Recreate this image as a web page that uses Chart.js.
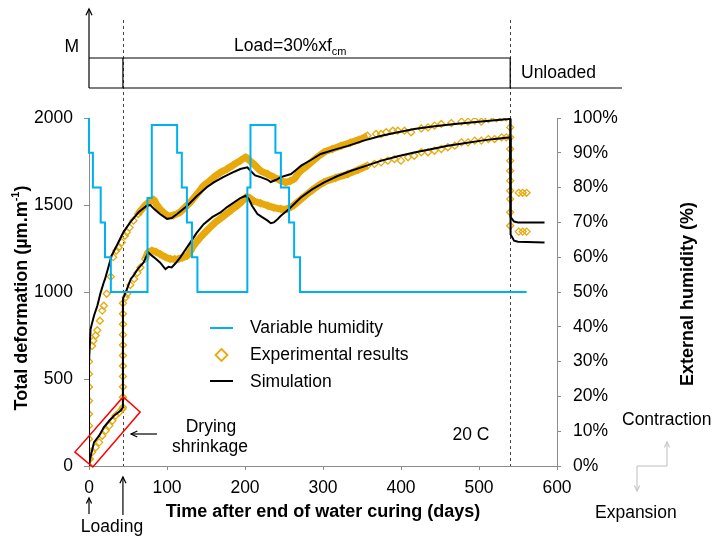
<!DOCTYPE html>
<html>
<head>
<meta charset="utf-8">
<script src="https://cdn.jsdelivr.net/npm/chart.js@4.4.1/dist/chart.umd.min.js"></script>
<style>
  html, body { margin: 0; padding: 0; background: #fff; }
  #wrap { position: relative; width: 713px; height: 536px; }
</style>
</head>
<body>
<div id="wrap"><canvas id="chart"></canvas></div>
<script>
// axis ranges / ticks
const xTicks = [0, 100, 200, 300, 400, 500, 600];
const yTicks = [0, 500, 1000, 1500, 2000];
const humTicks = [0, 10, 20, 30, 40, 50, 60, 70, 80, 90, 100];

// external humidity (%), step profile [day, %]
const humidity = [[0,100],[0,90],[5,90],[5,80],[15,80],[15,70],[20.5,70],[20.5,60],[28,60],[28,50],
  [75,50],[75,77],[80.5,77],[80.5,98],[113,98],[113,90],[119,90],[119,80],[125.5,80],[125.5,70],
  [132,70],[132,60],[139,60],[139,50],[203,50],[203,80],[207,80],[207,98],[239,98],[239,90],
  [246,90],[246,80],[256.5,80],[256.5,70],[263,70],[263,60],[270.5,60],[270.5,50],[561,50]];

// experimental results, specimen loaded at day 0
const expUpper = [[0,0],[0,40],[0,88],[0,155],[0,232],[0,299],[0,375],[0,454],[0,529],[0,600],
  [4,690],[5.5,720],[8.5,750],[10.7,780],[14,835],[17,893],[19,921],[22.7,990],[28,1088],[31,1200],
  [35,1237],[38,1256],[42,1285],[46,1323],[48.5,1343],[52,1370],[57,1410],[63,1448],[68,1477],
  [74,1506],[80,1525],[83,1530],[87,1500],[91,1477],[96,1455],[100,1440],[108,1440],[117,1460],
  [124,1490],[130,1517],[140,1570],[147,1611],[154,1635],[160,1659],[168,1685],[177,1707],[185,1730],
  [194,1755],[201,1774],[206,1755],[211,1736],[220,1697],[229,1678],[237,1659],[244,1645],[252,1630],
  [258,1638],[263,1650],[270,1690],[280,1726],[290,1765],[301,1802],[312,1822],[323,1840],[335,1858],
  [346,1875],[357,1898],[368,1908],[374.5,1908],[381,1918],[389.5,1927],[396,1927],[404.5,1927],
  [413,1918],[426,1940],[434.6,1946],[443,1956],[451.7,1966],[464.6,1971],[477.5,1979],[486,1979],
  [494.6,1985],[503,1979],[512,1994],[522.5,1998],[529,2004],[535,2004],
  [540,1946],[540,1822],[540,1697],[540,1582],[540,1458],[551,1570],[556,1570],[561,1570]];

// experimental results, drying shrinkage then loading at day 43.5
const expDrying = [[1.3,40],[4,79],[8.5,107],[13,136],[17,174],[21.5,203],[26,232],[30,260],
  [34,289],[38.6,308],[43,328]];
const expLower = [[43.5,337],[43.5,395],[43.5,455],[43.5,515],[43.5,575],[43.5,635],[43.5,695],
  [43.5,755],[43.5,815],[43.5,875],[43.5,935],[47,970],[49,990],[53,1040],[58,1075],[62,1110],
  [66,1141],[72,1190],[76,1228],[80.6,1237],[86,1230],[91,1218],[98,1200],[104,1190],[110,1188],
  [115,1190],[120,1198],[126,1209],[130,1235],[134,1266],[142,1310],[151,1352],[162,1400],[173,1438],
  [182,1470],[190,1496],[196,1520],[201,1543],[206,1540],[211,1524],[220,1510],[229,1496],[237,1485],
  [246,1477],[254,1477],[263,1500],[272,1534],[286,1585],[301,1630],[316,1655],[332,1678],[345,1702],
  [357,1726],[366,1736],[374.5,1745],[383,1755],[391.6,1764],[400,1755],[409,1774],[417,1783],
  [426,1803],[434.6,1803],[443,1812],[451.7,1822],[460,1832],[469,1841],[477.5,1860],[486,1860],
  [494.6,1870],[503,1870],[512,1879],[520,1879],[529,1889],[535,1889],
  [540,1889],[540,1755],[540,1640],[540,1534],[540,1381],[551,1347],[556,1347],[561,1347]];

// simulation
const simUpper = [[0,0],[0,600],[2,787],[6.4,864],[10.7,921],[15,998],[19,1056],[20.6,1075],[29,1209],
  [35.5,1266],[44,1343],[52.7,1400],[63.5,1458],[74,1496],[78.5,1500],[84,1475],[91,1448],[100,1420],
  [106,1425],[113,1448],[126,1496],[138,1550],[151,1602],[160,1630],[172,1660],[183,1685],[194,1707],
  [203,1717],[207,1697],[213,1670],[220,1660],[229,1645],[233,1632],[240,1645],[246,1660],[259,1678],
  [265,1700],[272,1726],[285,1760],[297,1793],[315,1818],[332,1840],[352,1870],[375,1898],[396,1918],
  [417,1937],[443,1952],[469,1966],[503,1980],[538,1994],[540,1996],[540,1500],[541,1430],[545,1405],
  [550,1400],[584,1400]];
const simLower = [[0,0],[1.3,40],[6.4,136],[13,174],[19,222],[26,260],[32,289],[40.6,318],[43.5,337],
  [43.5,960],[48,1010],[53.6,1075],[57,1094],[63,1135],[70,1170],[76,1228],[80.6,1209],[86,1190],
  [91,1170],[98,1132],[102,1145],[106,1141],[111,1165],[117,1199],[130,1285],[138,1340],[147,1390],
  [158,1430],[168.6,1457],[177,1488],[186,1515],[194,1540],[201,1553],[205,1534],[209,1496],[216,1448],
  [222,1430],[229,1410],[233,1395],[237,1400],[242,1420],[246,1438],[256.5,1477],[264,1510],
  [271.6,1543],[286,1590],[301.5,1630],[318,1665],[336,1697],[355,1725],[375,1755],[396,1780],
  [417,1802],[438,1820],[460,1840],[481,1855],[503,1870],[520,1880],[538,1888],[540,1890],[540,1400],
  [541,1330],[545,1295],[550,1289],[584,1285]];

const FONT = '"Liberation Sans", Arial, sans-serif';
const ORANGE = '#E8A90C';
const BLUE = '#00B0F0';
const AXIS = '#8c8c8c';

const pts = (a) => a.map(([x, y]) => ({ x, y }));
// dense part of the measurements shows as a solid band
const expUpperBand = expUpper.filter((p) => p[0] >= 60 && p[0] <= 360);
const expLowerBand = expLower.filter((p) => p[0] >= 70 && p[0] <= 360);

const loadDay = 43.5;
const unloadDay = 540;
// red frame round the drying shrinkage, in data units [day, value]
const redFrame = [[-18, 80], [5, -6], [65.6, 310], [43.8, 397]];

function arrow(ctx, x1, y1, x2, y2, head) {
  ctx.beginPath();
  ctx.moveTo(x1, y1);
  ctx.lineTo(x2, y2);
  ctx.stroke();
  const a = Math.atan2(y2 - y1, x2 - x1);
  ctx.beginPath();
  ctx.moveTo(x2 - head * Math.cos(a - 0.45), y2 - head * Math.sin(a - 0.45));
  ctx.lineTo(x2, y2);
  ctx.lineTo(x2 - head * Math.cos(a + 0.45), y2 - head * Math.sin(a + 0.45));
  ctx.stroke();
}

const extras = {
  id: "extras",
  beforeDatasetsDraw(chart) {
    const ctx = chart.ctx;
    const x = chart.scales.x;
    ctx.save();
    ctx.strokeStyle = "#444";
    ctx.lineWidth = 1;
    ctx.setLineDash([3, 3]);
    [loadDay, unloadDay].forEach((d) => {
      const px = Math.round(x.getPixelForValue(d)) + 0.5;
      ctx.beginPath();
      ctx.moveTo(px, 20);
      ctx.lineTo(px, chart.chartArea.bottom);
      ctx.stroke();
    });
    ctx.restore();
  },
  afterDraw(chart) {
    const ctx = chart.ctx;
    const x = chart.scales.x;
    const y = chart.scales.y;
    const px = (t) => x.getPixelForValue(t);
    const py = (v) => y.getPixelForValue(v);
    ctx.save();

    // load history panel
    ctx.strokeStyle = "#000";
    ctx.lineWidth = 1.2;
    const x0 = px(0);
    arrow(ctx, x0, 88, x0, 9, 7);
    ctx.beginPath();
    ctx.moveTo(x0, 88); ctx.lineTo(622, 88);
    ctx.moveTo(x0, 58); ctx.lineTo(px(unloadDay), 58);
    ctx.moveTo(px(unloadDay), 58); ctx.lineTo(px(unloadDay), 88);
    ctx.moveTo(px(loadDay), 58); ctx.lineTo(px(loadDay), 88);
    ctx.stroke();

    ctx.fillStyle = "#000";
    ctx.font = "17.5px " + FONT;
    ctx.textBaseline = "middle";
    ctx.textAlign = "right";
    ctx.fillText("M", 79, 47);
    ctx.textAlign = "left";
    ctx.fillText("Load=30%xf", 234, 46);
    const w = ctx.measureText("Load=30%xf").width;
    ctx.font = "11px " + FONT;
    ctx.fillText("cm", 234 + w, 52);
    ctx.font = "17.5px " + FONT;
    ctx.fillText("Unloaded", 521, 73);

    // annotations
    ctx.textAlign = "center";
    ctx.fillText("Drying", 211, 427);
    ctx.fillText("shrinkage", 210, 447);
    ctx.fillText("20 C", 471, 435);
    ctx.fillText("Loading", 112, 527);
    ctx.textAlign = "left";
    ctx.fillText("Contraction", 622, 420);
    ctx.fillText("Expansion", 595, 513);

    ctx.lineWidth = 1.2;
    arrow(ctx, x0, 514, x0, 498, 6);
    arrow(ctx, px(loadDay), 515, px(loadDay), 477, 7);
    arrow(ctx, 157, 434, 131, 434, 7);

    ctx.strokeStyle = "#c8c8c8";
    ctx.lineWidth = 1.2;
    ctx.beginPath();
    ctx.moveTo(667, 466); ctx.lineTo(637, 466);
    ctx.stroke();
    arrow(ctx, 667, 466, 667, 442, 6);
    arrow(ctx, 637, 466, 637, 491, 6);

    ctx.strokeStyle = "#ff0000";
    ctx.lineWidth = 1.5;
    ctx.beginPath();
    redFrame.forEach(([t, v], i) => {
      if (i === 0) ctx.moveTo(px(t), py(v));
      else ctx.lineTo(px(t), py(v));
    });
    ctx.closePath();
    ctx.stroke();

    // legend
    ctx.lineWidth = 2;
    ctx.strokeStyle = BLUE;
    ctx.beginPath(); ctx.moveTo(210, 328); ctx.lineTo(233, 328); ctx.stroke();
    ctx.strokeStyle = "#000";
    ctx.beginPath(); ctx.moveTo(210, 381); ctx.lineTo(233, 381); ctx.stroke();
    ctx.strokeStyle = ORANGE;
    ctx.lineWidth = 1.8;
    ctx.beginPath();
    ctx.moveTo(221.5, 349); ctx.lineTo(227.5, 355); ctx.lineTo(221.5, 361); ctx.lineTo(215.5, 355);
    ctx.closePath();
    ctx.stroke();
    ctx.fillStyle = "#000";
    ctx.font = "17.5px " + FONT;
    ctx.textAlign = "left";
    ctx.fillText("Variable humidity", 250, 328);
    ctx.fillText("Experimental results", 250, 355);
    ctx.fillText("Simulation", 250, 382);

    // axis titles
    ctx.font = "bold 18px " + FONT;
    ctx.textAlign = "center";
    ctx.fillText("Time after end of water curing (days)", (px(0) + px(600)) / 2, 512);

    ctx.save();
    ctx.translate(22, 298);
    ctx.rotate(-Math.PI / 2);
    const main = "Total deformation (µm.m";
    ctx.textAlign = "left";
    ctx.font = "bold 18px " + FONT;
    const wMain = ctx.measureText(main).width;
    ctx.font = "bold 11px " + FONT;
    const wSup = ctx.measureText("-1").width;
    ctx.font = "bold 18px " + FONT;
    const wEnd = ctx.measureText(")").width;
    let sx = -(wMain + wSup + wEnd) / 2;
    ctx.fillText(main, sx, 0);
    ctx.font = "bold 11px " + FONT;
    ctx.fillText("-1", sx + wMain, -6);
    ctx.font = "bold 18px " + FONT;
    ctx.fillText(")", sx + wMain + wSup, 0);
    ctx.restore();

    ctx.save();
    ctx.translate(688, 294);
    ctx.rotate(-Math.PI / 2);
    ctx.textAlign = "center";
    ctx.fillText("External humidity (%)", 0, 0);
    ctx.restore();

    ctx.restore();
  },
};

const canvas = document.querySelector("#chart");
new Chart(canvas, {
  type: "scatter",
  plugins: [extras],
  data: {
    datasets: [
      {
        label: "Variable humidity",
        data: pts(humidity),
        yAxisID: "y2",
        showLine: true,
        borderColor: BLUE,
        borderWidth: 2,
        pointRadius: 0,
        clip: 6,
        order: 0,
      },
      {
        label: "Simulation",
        data: pts(simUpper),
        showLine: true,
        borderColor: "#000",
        borderWidth: 2,
        pointRadius: 0,
        order: 1,
      },
      {
        label: "Simulation lower",
        data: pts(simLower),
        showLine: true,
        borderColor: "#000",
        borderWidth: 2,
        pointRadius: 0,
        order: 1,
      },
      {
        label: "Experimental results",
        data: pts(expUpper),
        pointStyle: "rectRot",
        pointRadius: 3.5,
        borderColor: ORANGE,
        backgroundColor: "rgba(0,0,0,0)",
        borderWidth: 1.3,
        order: 2,
      },
      {
        label: "Experimental lower",
        data: pts(expLower),
        pointStyle: "rectRot",
        pointRadius: 3.5,
        borderColor: ORANGE,
        backgroundColor: "rgba(0,0,0,0)",
        borderWidth: 1.3,
        order: 2,
      },
      {
        label: "Experimental drying",
        data: pts(expDrying),
        pointStyle: "rectRot",
        pointRadius: 3.5,
        borderColor: ORANGE,
        backgroundColor: "rgba(0,0,0,0)",
        borderWidth: 1.3,
        order: 2,
      },
      {
        label: "band upper",
        data: pts(expUpperBand),
        showLine: true,
        borderColor: ORANGE,
        borderWidth: 7,
        tension: 0.3,
        pointRadius: 0,
        order: 3,
      },
      {
        label: "band lower",
        data: pts(expLowerBand),
        showLine: true,
        borderColor: ORANGE,
        borderWidth: 7,
        tension: 0.3,
        pointRadius: 0,
        order: 3,
      },
    ],
  },
  options: {
    responsive: true,
    maintainAspectRatio: false,
    animation: false,
    layout: { padding: { top: 118, left: 0, right: 0, bottom: 0 } },
    plugins: {
      legend: { display: false },
      tooltip: { enabled: false },
    },
    scales: {
      x: {
        type: "linear",
        min: 0,
        max: 600,
        afterBuildTicks: (s) => { s.ticks = xTicks.map((v) => ({ value: v })); },
        afterFit: (s) => { s.height = 70; },
        grid: { drawOnChartArea: false, tickLength: 4, color: AXIS },
        border: { color: AXIS },
        ticks: {
          padding: 8,
          color: "#000",
          font: { family: FONT, size: 17.5 },
          maxRotation: 0,
          callback: (v) => String(v),
        },
      },
      y: {
        min: 0,
        max: 2000,
        afterBuildTicks: (s) => { s.ticks = yTicks.map((v) => ({ value: v })); },
        afterFit: (s) => { s.width = 89; },
        grid: { drawOnChartArea: false, tickLength: 5, color: AXIS },
        border: { color: AXIS },
        ticks: {
          padding: 11,
          color: "#000",
          font: { family: FONT, size: 17.5 },
          callback: (v) => String(v),
        },
      },
      y2: {
        position: "right",
        min: 0,
        max: 100,
        afterBuildTicks: (s) => { s.ticks = humTicks.map((v) => ({ value: v })); },
        afterFit: (s) => { s.width = 156; },
        grid: { drawOnChartArea: false, tickLength: 4, color: AXIS },
        border: { color: AXIS },
        ticks: {
          padding: 12,
          color: "#000",
          font: { family: FONT, size: 17.5 },
          callback: (v) => v + "%",
        },
      },
    },
  },
});
</script>
</body>
</html>
